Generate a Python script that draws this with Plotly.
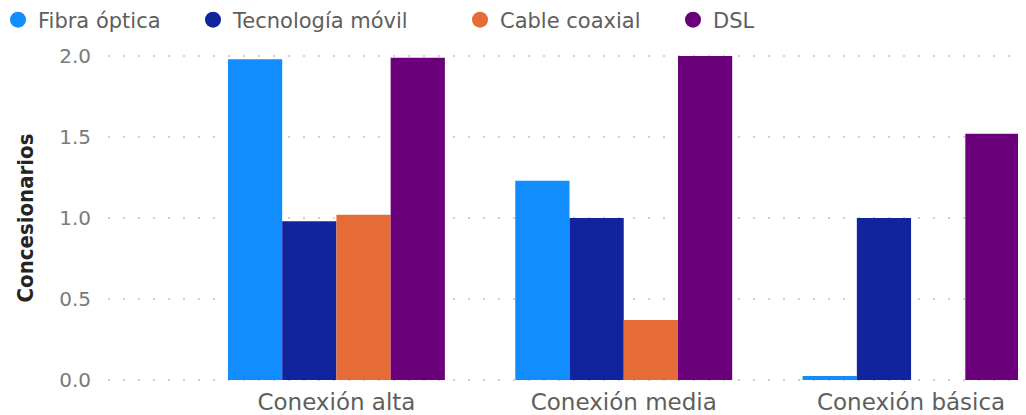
import plotly.graph_objects as go

categories = ["Conexión alta", "Conexión media", "Conexión básica"]
series_names = ["Fibra óptica", "Tecnología móvil", "Cable coaxial", "DSL"]
fibra = [1.98, 1.23, 0.025]
movil = [0.98, 1.0, 1.0]
cable = [1.02, 0.37, 0]
dsl = [1.99, 2.0, 1.52]
colors = ["#118DFF", "#12239E", "#E66C37", "#6B007B"]
y_ticks = [0, 0.5, 1.0, 1.5, 2.0]
y_tick_labels = ["0.0", "0.5", "1.0", "1.5", "2.0"]

# page body has an 8px margin: figure is 8px smaller, coordinates shifted by 8
W, H = 1018, 407
ML = 100
PW = W - ML
legend_px = [20, 215, 482, 695]   # legend symbol centres on screen (px)
legend_ids = ["legend", "legend2", "legend3", "legend4"]

fig = go.Figure()
for name, vals, col in zip(series_names, [fibra, movil, cable, dsl], colors):
    fig.add_trace(go.Bar(x=categories, y=vals, name=name, marker_color=col,
                         marker_line_width=0, showlegend=False))
# circular legend symbols
for name, col, lid in zip(series_names, colors, legend_ids):
    fig.add_trace(go.Scatter(x=[None], y=[None], mode="markers", name=name,
                             marker=dict(color=col, size=17, symbol="circle"),
                             legend=lid, showlegend=True))

leg_font = dict(family="DejaVu Sans", size=21, color="#605E5C")
layout_legends = {}
for lid, px in zip(legend_ids, legend_px):
    layout_legends[lid] = dict(xref="paper", yref="container",
                               x=(px - 8 - 22 - ML) / PW, xanchor="left",
                               y=1 - 12 / H, yanchor="middle",
                               font=leg_font, bgcolor="rgba(0,0,0,0)",
                               itemwidth=30, orientation="h")

fig.update_layout(
    width=W, height=H,
    margin=dict(l=ML, r=0, t=46, b=33, autoexpand=False),
    paper_bgcolor="white", plot_bgcolor="white",
    barmode="group", bargap=0.245, bargroupgap=0,
    font=dict(family="DejaVu Sans", color="#666666"),
    xaxis=dict(range=[-0.795, 2.40], showgrid=False, showline=False, ticks="",
               automargin=False, ticklabelstandoff=4,
               tickfont=dict(family="DejaVu Sans", size=23, color="#605E5C")),
    yaxis=dict(range=[-0.0124, 2.0124], tickvals=y_ticks, ticktext=y_tick_labels,
               showgrid=True, gridcolor="#D0D0D0", griddash="2px,13px", gridwidth=2,
               zeroline=False, showline=False, ticks="", ticklabelstandoff=16,
               automargin=False,
               tickfont=dict(family="DejaVu Sans", size=20, color="#7A7A7A"),
               title=dict(text="Concesionarios", standoff=19,
                          font=dict(size=22, color="#252423",
                                    family="DejaVu Sans Condensed, DejaVu Sans, sans-serif",
                                    weight="bold"))),
    **layout_legends,
)
fig.write_html("out.html")
